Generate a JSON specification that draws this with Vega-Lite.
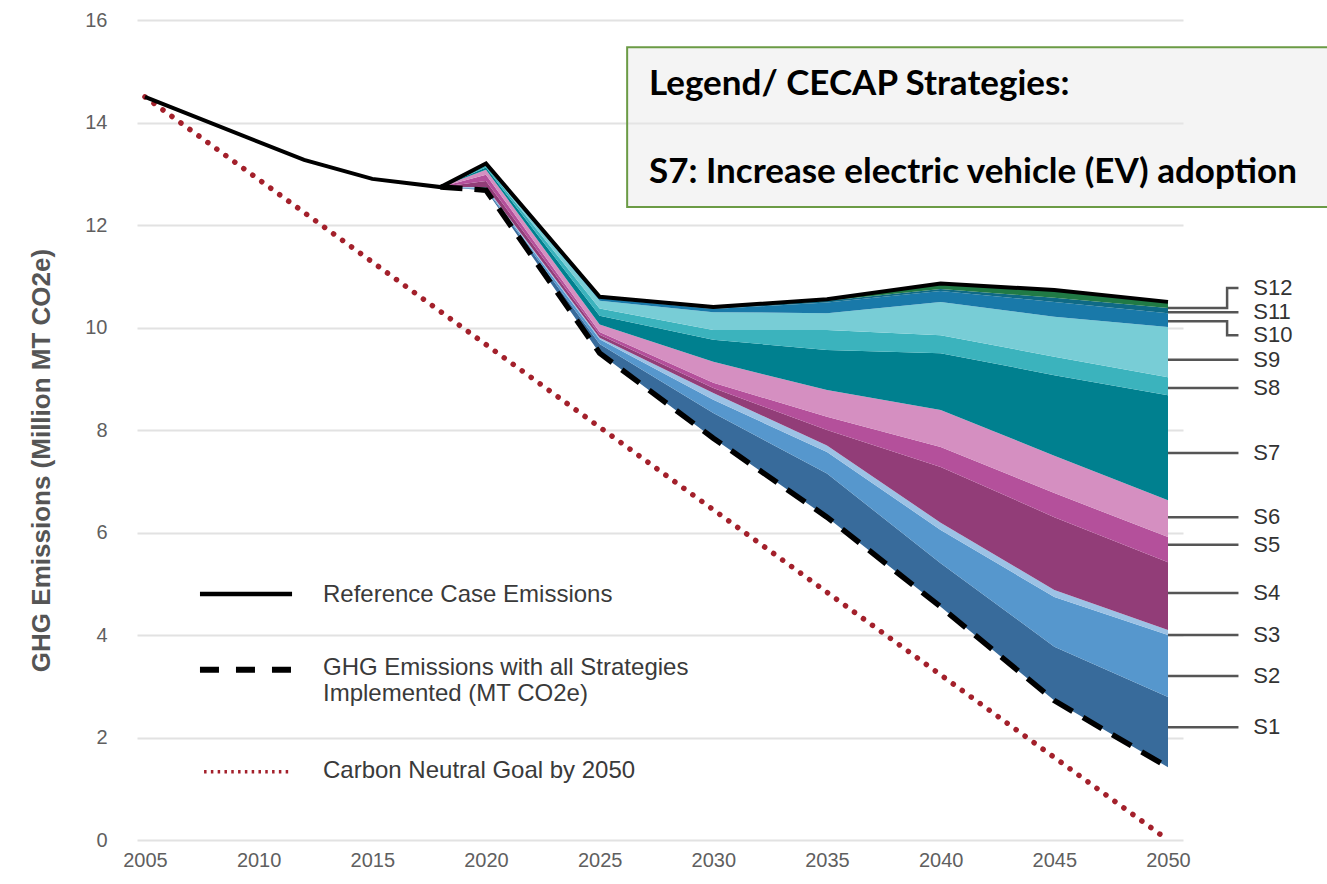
{
  "$schema": "https://vega.github.io/schema/vega-lite/v6.json",
  "width": 1046,
  "height": 820,
  "autosize": {"type": "none"},
  "padding": {"left": 137, "top": 20, "right": 144, "bottom": 44},
  "background": "white",
  "config": {
    "view": {"stroke": null},
    "font": "Liberation Sans",
    "axisX": {"grid": false, "domain": false, "ticks": false, "labelFontSize": 20, "labelColor": "#5f5f5f", "labelPadding": 10, "labelFont": "Liberation Sans"},
    "axisY": {"grid": true, "gridColor": "#e2e2e2", "gridWidth": 2, "domain": false, "ticks": false, "labelPadding": 30, "labelFontSize": 20, "labelColor": "#5f5f5f", "labelFont": "Liberation Sans",
      "titleFontSize": 26, "titleFontWeight": "bold", "titleColor": "#555555", "titleFont": "Liberation Sans", "titleX": -96, "titleY": 440, "titleAngle": -90, "titleAlign": "center", "titleBaseline": "middle"}
  },
  "datasets": {
    "bands": [
      {"year": 2018, "s": "base", "n": 0, "value": 12.74},
      {"year": 2018, "s": "S1", "n": 1, "value": 0},
      {"year": 2018, "s": "S2", "n": 2, "value": 0},
      {"year": 2018, "s": "S3", "n": 3, "value": 0},
      {"year": 2018, "s": "S4", "n": 4, "value": 0},
      {"year": 2018, "s": "S5", "n": 5, "value": 0},
      {"year": 2018, "s": "S6", "n": 6, "value": 0},
      {"year": 2018, "s": "S7", "n": 7, "value": 0},
      {"year": 2018, "s": "S8", "n": 8, "value": 0},
      {"year": 2018, "s": "S9", "n": 9, "value": 0},
      {"year": 2018, "s": "S10", "n": 10, "value": 0},
      {"year": 2018, "s": "S11", "n": 11, "value": 0},
      {"year": 2018, "s": "S12", "n": 12, "value": 0},

      {"year": 2020, "s": "base", "n": 0, "value": 12.68},
      {"year": 2020, "s": "S1", "n": 1, "value": 0.02},
      {"year": 2020, "s": "S2", "n": 2, "value": 0.02},
      {"year": 2020, "s": "S3", "n": 3, "value": 0.02},
      {"year": 2020, "s": "S4", "n": 4, "value": 0.12},
      {"year": 2020, "s": "S5", "n": 5, "value": 0.12},
      {"year": 2020, "s": "S6", "n": 6, "value": 0.10},
      {"year": 2020, "s": "S7", "n": 7, "value": 0.04},
      {"year": 2020, "s": "S8", "n": 8, "value": 0.04},
      {"year": 2020, "s": "S9", "n": 9, "value": 0.02},
      {"year": 2020, "s": "S10", "n": 10, "value": 0.01},
      {"year": 2020, "s": "S11", "n": 11, "value": 0.005},
      {"year": 2020, "s": "S12", "n": 12, "value": 0.005},

      {"year": 2025, "s": "base", "n": 0, "value": 9.50},
      {"year": 2025, "s": "S1", "n": 1, "value": 0.18},
      {"year": 2025, "s": "S2", "n": 2, "value": 0.09},
      {"year": 2025, "s": "S3", "n": 3, "value": 0.03},
      {"year": 2025, "s": "S4", "n": 4, "value": 0.06},
      {"year": 2025, "s": "S5", "n": 5, "value": 0.05},
      {"year": 2025, "s": "S6", "n": 6, "value": 0.15},
      {"year": 2025, "s": "S7", "n": 7, "value": 0.17},
      {"year": 2025, "s": "S8", "n": 8, "value": 0.14},
      {"year": 2025, "s": "S9", "n": 9, "value": 0.15},
      {"year": 2025, "s": "S10", "n": 10, "value": 0.05},
      {"year": 2025, "s": "S11", "n": 11, "value": 0.01},
      {"year": 2025, "s": "S12", "n": 12, "value": 0.02},

      {"year": 2030, "s": "base", "n": 0, "value": 7.84},
      {"year": 2030, "s": "S1", "n": 1, "value": 0.49},
      {"year": 2030, "s": "S2", "n": 2, "value": 0.26},
      {"year": 2030, "s": "S3", "n": 3, "value": 0.13},
      {"year": 2030, "s": "S4", "n": 4, "value": 0.10},
      {"year": 2030, "s": "S5", "n": 5, "value": 0.10},
      {"year": 2030, "s": "S6", "n": 6, "value": 0.41},
      {"year": 2030, "s": "S7", "n": 7, "value": 0.43},
      {"year": 2030, "s": "S8", "n": 8, "value": 0.19},
      {"year": 2030, "s": "S9", "n": 9, "value": 0.35},
      {"year": 2030, "s": "S10", "n": 10, "value": 0.06},
      {"year": 2030, "s": "S11", "n": 11, "value": 0.02},
      {"year": 2030, "s": "S12", "n": 12, "value": 0.02},

      {"year": 2035, "s": "base", "n": 0, "value": 6.30},
      {"year": 2035, "s": "S1", "n": 1, "value": 0.85},
      {"year": 2035, "s": "S2", "n": 2, "value": 0.42},
      {"year": 2035, "s": "S3", "n": 3, "value": 0.13},
      {"year": 2035, "s": "S4", "n": 4, "value": 0.30},
      {"year": 2035, "s": "S5", "n": 5, "value": 0.26},
      {"year": 2035, "s": "S6", "n": 6, "value": 0.52},
      {"year": 2035, "s": "S7", "n": 7, "value": 0.78},
      {"year": 2035, "s": "S8", "n": 8, "value": 0.39},
      {"year": 2035, "s": "S9", "n": 9, "value": 0.33},
      {"year": 2035, "s": "S10", "n": 10, "value": 0.21},
      {"year": 2035, "s": "S11", "n": 11, "value": 0.03},
      {"year": 2035, "s": "S12", "n": 12, "value": 0.03},

      {"year": 2040, "s": "base", "n": 0, "value": 4.55},
      {"year": 2040, "s": "S1", "n": 1, "value": 0.85},
      {"year": 2040, "s": "S2", "n": 2, "value": 0.65},
      {"year": 2040, "s": "S3", "n": 3, "value": 0.14},
      {"year": 2040, "s": "S4", "n": 4, "value": 1.09},
      {"year": 2040, "s": "S5", "n": 5, "value": 0.39},
      {"year": 2040, "s": "S6", "n": 6, "value": 0.72},
      {"year": 2040, "s": "S7", "n": 7, "value": 1.11},
      {"year": 2040, "s": "S8", "n": 8, "value": 0.35},
      {"year": 2040, "s": "S9", "n": 9, "value": 0.65},
      {"year": 2040, "s": "S10", "n": 10, "value": 0.21},
      {"year": 2040, "s": "S11", "n": 11, "value": 0.04},
      {"year": 2040, "s": "S12", "n": 12, "value": 0.11},

      {"year": 2045, "s": "base", "n": 0, "value": 2.72},
      {"year": 2045, "s": "S1", "n": 1, "value": 1.05},
      {"year": 2045, "s": "S2", "n": 2, "value": 0.97},
      {"year": 2045, "s": "S3", "n": 3, "value": 0.14},
      {"year": 2045, "s": "S4", "n": 4, "value": 1.42},
      {"year": 2045, "s": "S5", "n": 5, "value": 0.47},
      {"year": 2045, "s": "S6", "n": 6, "value": 0.73},
      {"year": 2045, "s": "S7", "n": 7, "value": 1.57},
      {"year": 2045, "s": "S8", "n": 8, "value": 0.36},
      {"year": 2045, "s": "S9", "n": 9, "value": 0.78},
      {"year": 2045, "s": "S10", "n": 10, "value": 0.29},
      {"year": 2045, "s": "S11", "n": 11, "value": 0.08},
      {"year": 2045, "s": "S12", "n": 12, "value": 0.15},

      {"year": 2050, "s": "base", "n": 0, "value": 1.42},
      {"year": 2050, "s": "S1", "n": 1, "value": 1.37},
      {"year": 2050, "s": "S2", "n": 2, "value": 1.21},
      {"year": 2050, "s": "S3", "n": 3, "value": 0.10},
      {"year": 2050, "s": "S4", "n": 4, "value": 1.32},
      {"year": 2050, "s": "S5", "n": 5, "value": 0.49},
      {"year": 2050, "s": "S6", "n": 6, "value": 0.72},
      {"year": 2050, "s": "S7", "n": 7, "value": 2.05},
      {"year": 2050, "s": "S8", "n": 8, "value": 0.35},
      {"year": 2050, "s": "S9", "n": 9, "value": 0.98},
      {"year": 2050, "s": "S10", "n": 10, "value": 0.27},
      {"year": 2050, "s": "S11", "n": 11, "value": 0.10},
      {"year": 2050, "s": "S12", "n": 12, "value": 0.12}
    ],
    "lines": [
      {"series": "ref", "year": 2005, "value": 14.5},
      {"series": "ref", "year": 2012, "value": 13.27},
      {"series": "ref", "year": 2015, "value": 12.9},
      {"series": "ref", "year": 2018, "value": 12.74},
      {"series": "ref", "year": 2020, "value": 13.2},
      {"series": "ref", "year": 2025, "value": 10.6},
      {"series": "ref", "year": 2030, "value": 10.4},
      {"series": "ref", "year": 2035, "value": 10.55},
      {"series": "ref", "year": 2040, "value": 10.86},
      {"series": "ref", "year": 2045, "value": 10.73},
      {"series": "ref", "year": 2050, "value": 10.5},
      {"series": "all", "year": 2018, "value": 12.74},
      {"series": "all", "year": 2020, "value": 12.68},
      {"series": "all", "year": 2025, "value": 9.5},
      {"series": "all", "year": 2030, "value": 7.84},
      {"series": "all", "year": 2035, "value": 6.3},
      {"series": "all", "year": 2040, "value": 4.55},
      {"series": "all", "year": 2045, "value": 2.72},
      {"series": "all", "year": 2050, "value": 1.42},
      {"series": "goal", "year": 2005, "value": 14.5},
      {"series": "goal", "year": 2050, "value": 0}
    ],
    "leaders": [
      {"id": "S1", "seq": 0, "year": 2050, "value": 2.2}, {"id": "S1", "seq": 1, "year": 2053.1, "value": 2.2},
      {"id": "S2", "seq": 0, "year": 2050, "value": 3.2}, {"id": "S2", "seq": 1, "year": 2053.1, "value": 3.2},
      {"id": "S3", "seq": 0, "year": 2050, "value": 4.0}, {"id": "S3", "seq": 1, "year": 2053.1, "value": 4.0},
      {"id": "S4", "seq": 0, "year": 2050, "value": 4.82}, {"id": "S4", "seq": 1, "year": 2053.1, "value": 4.82},
      {"id": "S5", "seq": 0, "year": 2050, "value": 5.76}, {"id": "S5", "seq": 1, "year": 2053.1, "value": 5.76},
      {"id": "S6", "seq": 0, "year": 2050, "value": 6.3}, {"id": "S6", "seq": 1, "year": 2053.1, "value": 6.3},
      {"id": "S7", "seq": 0, "year": 2050, "value": 7.55}, {"id": "S7", "seq": 1, "year": 2053.1, "value": 7.55},
      {"id": "S8", "seq": 0, "year": 2050, "value": 8.82}, {"id": "S8", "seq": 1, "year": 2053.1, "value": 8.82},
      {"id": "S9", "seq": 0, "year": 2050, "value": 9.37}, {"id": "S9", "seq": 1, "year": 2053.1, "value": 9.37},
      {"id": "S10", "seq": 0, "year": 2050, "value": 10.12}, {"id": "S10", "seq": 1, "year": 2052.6, "value": 10.12},
      {"id": "S10", "seq": 2, "year": 2052.6, "value": 9.85}, {"id": "S10", "seq": 3, "year": 2053.1, "value": 9.85},
      {"id": "S11", "seq": 0, "year": 2050, "value": 10.3}, {"id": "S11", "seq": 1, "year": 2053.1, "value": 10.3},
      {"id": "S12", "seq": 0, "year": 2050, "value": 10.38}, {"id": "S12", "seq": 1, "year": 2052.6, "value": 10.38},
      {"id": "S12", "seq": 2, "year": 2052.6, "value": 10.77}, {"id": "S12", "seq": 3, "year": 2053.1, "value": 10.77}
    ],
    "labels": [
      {"s": "S1", "value": 2.2}, {"s": "S2", "value": 3.2}, {"s": "S3", "value": 4.0},
      {"s": "S4", "value": 4.82}, {"s": "S5", "value": 5.76}, {"s": "S6", "value": 6.3},
      {"s": "S7", "value": 7.55}, {"s": "S8", "value": 8.82}, {"s": "S9", "value": 9.37},
      {"s": "S10", "value": 9.85}, {"s": "S11", "value": 10.3}, {"s": "S12", "value": 10.77}
    ]
  },
  "layer": [
    {
      "data": {"values": [{"box": "legend"}]},
      "mark": {"type": "rect", "fill": "#e6e6e6", "fillOpacity": 0.45, "stroke": "#6b9b45", "strokeWidth": 2},
      "encoding": {
        "x": {"datum": 2026.21, "type": "quantitative"},
        "x2": {"datum": 2057.2},
        "y": {"datum": 15.47, "type": "quantitative"},
        "y2": {"datum": 12.35}
      }
    },
    {
      "data": {"name": "bands"},
      "mark": {"type": "area", "interpolate": "linear"},
      "encoding": {
        "x": {"field": "year", "type": "quantitative", "title": null,
              "scale": {"domain": [2004.65, 2050.66], "nice": false, "zero": false},
              "axis": {"values": [2005, 2010, 2015, 2020, 2025, 2030, 2035, 2040, 2045, 2050], "format": "d"}},
        "y": {"field": "value", "type": "quantitative", "stack": "zero",
              "title": "GHG Emissions (Million MT CO2e)",
              "scale": {"domain": [0, 16], "nice": false},
              "axis": {"values": [0, 2, 4, 6, 8, 10, 12, 14, 16]}},
        "color": {"field": "s", "type": "nominal", "legend": null,
                  "scale": {"domain": ["base", "S1", "S2", "S3", "S4", "S5", "S6", "S7", "S8", "S9", "S10", "S11", "S12"],
                            "range": ["rgba(0,0,0,0)", "#386b9b", "#5697cd", "#9cc2e5", "#923d78", "#b4509b", "#d58fc1", "#00808f", "#3bb3bd", "#78cdd6", "#1979a9", "#0f6a86", "#207a45"]}},
        "order": {"field": "n", "type": "quantitative", "sort": "ascending"}
      }
    },
    {
      "data": {"name": "lines"},
      "transform": [{"filter": "datum.series == 'goal'"}],
      "mark": {"type": "line", "color": "#a3202b", "strokeWidth": 5.5, "strokeDash": [0.1, 11], "strokeCap": "round"},
      "encoding": {
        "x": {"field": "year", "type": "quantitative", "title": null},
        "y": {"field": "value", "type": "quantitative", "title": "GHG Emissions (Million MT CO2e)"}
      }
    },
    {
      "data": {"name": "lines"},
      "transform": [{"filter": "datum.series == 'all'"}],
      "mark": {"type": "line", "color": "#000000", "strokeWidth": 5.5, "strokeDash": [22, 12]},
      "encoding": {
        "x": {"field": "year", "type": "quantitative", "title": null},
        "y": {"field": "value", "type": "quantitative", "title": "GHG Emissions (Million MT CO2e)"}
      }
    },
    {
      "data": {"name": "lines"},
      "transform": [{"filter": "datum.series == 'ref'"}],
      "mark": {"type": "line", "color": "#000000", "strokeWidth": 4},
      "encoding": {
        "x": {"field": "year", "type": "quantitative", "title": null},
        "y": {"field": "value", "type": "quantitative", "title": "GHG Emissions (Million MT CO2e)"}
      }
    },
    {
      "data": {"name": "leaders"},
      "mark": {"type": "line", "color": "#555555", "strokeWidth": 2.5},
      "encoding": {
        "x": {"field": "year", "type": "quantitative", "title": null},
        "y": {"field": "value", "type": "quantitative", "title": "GHG Emissions (Million MT CO2e)"},
        "detail": {"field": "id"},
        "order": {"field": "seq", "type": "quantitative"}
      }
    },
    {
      "data": {"name": "labels"},
      "mark": {"type": "text", "align": "left", "baseline": "middle", "fontSize": 22, "color": "#333333", "font": "Liberation Sans"},
      "encoding": {
        "x": {"datum": 2053.75, "type": "quantitative"},
        "y": {"field": "value", "type": "quantitative", "title": "GHG Emissions (Million MT CO2e)"},
        "text": {"field": "s"}
      }
    },
    {
      "data": {"values": [{"item": "Reference Case Emissions"}]},
      "layer": [
        {"mark": {"type": "rule", "color": "#000000", "strokeWidth": 4.5},
         "encoding": {"x": {"datum": 2007.42, "type": "quantitative"}, "x2": {"datum": 2011.47}, "y": {"datum": 4.8, "type": "quantitative"}}},
        {"mark": {"type": "text", "align": "left", "baseline": "middle", "fontSize": 24, "color": "#3a3a3a"},
         "encoding": {"x": {"datum": 2012.83, "type": "quantitative"}, "y": {"datum": 4.78, "type": "quantitative"}, "text": {"field": "item"}}}
      ]
    },
    {
      "data": {"values": [{"item": "GHG Emissions with all Strategies", "item2": "Implemented (MT CO2e)"}]},
      "layer": [
        {"mark": {"type": "rule", "color": "#000000", "strokeWidth": 6, "strokeDash": [19, 17]},
         "encoding": {"x": {"datum": 2007.42, "type": "quantitative"}, "x2": {"datum": 2011.47}, "y": {"datum": 3.32, "type": "quantitative"}}},
        {"mark": {"type": "text", "align": "left", "baseline": "middle", "fontSize": 24, "color": "#3a3a3a"},
         "encoding": {"x": {"datum": 2012.83, "type": "quantitative"}, "y": {"datum": 3.36, "type": "quantitative"}, "text": {"field": "item"}}},
        {"mark": {"type": "text", "align": "left", "baseline": "middle", "fontSize": 24, "color": "#3a3a3a"},
         "encoding": {"x": {"datum": 2012.83, "type": "quantitative"}, "y": {"datum": 2.84, "type": "quantitative"}, "text": {"field": "item2"}}}
      ]
    },
    {
      "data": {"values": [{"item": "Carbon Neutral Goal by 2050"}]},
      "layer": [
        {"mark": {"type": "rule", "color": "#a3202b", "strokeWidth": 3.5, "strokeDash": [2.5, 4.3]},
         "encoding": {"x": {"datum": 2007.6, "type": "quantitative"}, "x2": {"datum": 2011.47}, "y": {"datum": 1.33, "type": "quantitative"}}},
        {"mark": {"type": "text", "align": "left", "baseline": "middle", "fontSize": 24, "color": "#3a3a3a"},
         "encoding": {"x": {"datum": 2012.83, "type": "quantitative"}, "y": {"datum": 1.35, "type": "quantitative"}, "text": {"field": "item"}}}
      ]
    },
    {
      "data": {"values": [{"t1": "Legend/ CECAP Strategies:", "t2": "S7: Increase electric vehicle (EV) adoption"}]},
      "layer": [
        {"mark": {"type": "text", "align": "left", "baseline": "middle", "fontSize": 35, "fontWeight": "bold", "font": "Lato", "color": "#000000"},
         "encoding": {"x": {"datum": 2027.17, "type": "quantitative"}, "y": {"datum": 14.75, "type": "quantitative"}, "text": {"field": "t1"}}},
        {"mark": {"type": "text", "align": "left", "baseline": "middle", "fontSize": 35, "fontWeight": "bold", "font": "Lato", "color": "#000000"},
         "encoding": {"x": {"datum": 2027.17, "type": "quantitative"}, "y": {"datum": 13.03, "type": "quantitative"}, "text": {"field": "t2"}}}
      ]
    }
  ]
}
